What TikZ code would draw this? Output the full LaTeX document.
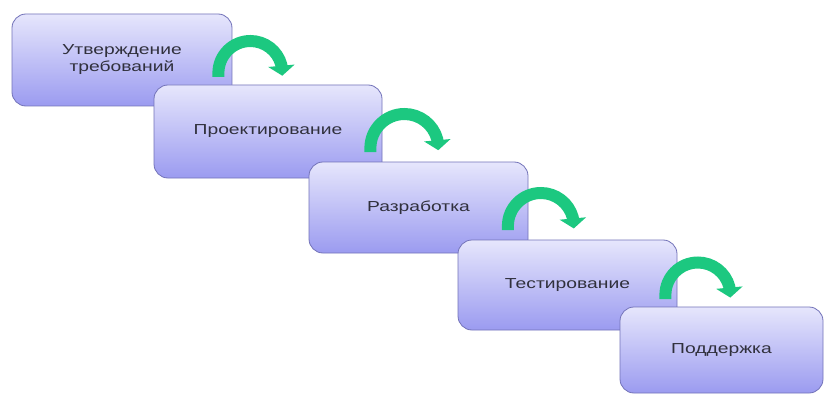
\documentclass[tikz,border=0pt]{standalone}
\usepackage{fontspec}
\setmainfont{Liberation Sans}
\newfontfamily\stagefont[FakeStretch=1.33]{Liberation Sans}
\usetikzlibrary{arrows.meta,calc}
\definecolor{stagetop}{RGB}{230,230,252}
\definecolor{stagebot}{RGB}{155,155,240}
\definecolor{stageedge}{RGB}{115,115,185}
\definecolor{flowgreen}{RGB}{28,200,128}
\definecolor{stagetext}{RGB}{48,48,60}
\begin{document}
\begin{tikzpicture}[x=1pt,y=-1pt,
  stage/.style={draw=stageedge, line width=0.8pt, rounded corners=14pt,
    top color=stagetop, bottom color=stagebot, align=center, inner sep=0pt,
    font=\stagefont\fontsize{14.5}{17}\selectfont, text=stagetext},
  flow/.style={draw=flowgreen, line width=12pt,
    -{Triangle[width=26pt,length=10pt]}}]
  % page frame
  \path[fill=white] (0,0) rectangle (828,396);
  \useasboundingbox (0,0) rectangle (828,396);

  % stages, each drawn before the arrow that leaves it;
  % an arrow rises from the stage's right edge and turns down towards the next
  \node[stage, minimum width=220pt, minimum height=92pt] (b1) at (122,60)
    {Утверждение\\требований};
  \draw[flow] ($(b1.east)+(-14,17)$) -- ++(0,-4)
    arc[start angle=180, end angle=345, radius=32] -- ++(1,11);

  \node[stage, minimum width=228pt, minimum height=93pt] (b2) at (268,131.5)
    {Проектирование};
  \draw[flow] ($(b2.east)+(-12,20.5)$) -- ++(0,-4)
    arc[start angle=180, end angle=345, radius=34] -- ++(1,11);

  \node[stage, minimum width=219pt, minimum height=91pt] (b3) at (418.5,207.5)
    {Разработка};
  \draw[flow] ($(b3.east)+(-20.5,22.5)$) -- ++(0,-4)
    arc[start angle=180, end angle=345, radius=33] -- ++(1,11);

  \node[stage, minimum width=219pt, minimum height=90pt] (b4) at (567.5,285)
    {Тестирование};
  \draw[flow] ($(b4.east)+(-12,14)$) -- ++(0,-4)
    arc[start angle=180, end angle=345, radius=32.5] -- ++(1,11);

  \node[stage, minimum width=203pt, minimum height=86pt] (b5) at (721.5,350)
    {Поддержка};
\end{tikzpicture}
\end{document}
